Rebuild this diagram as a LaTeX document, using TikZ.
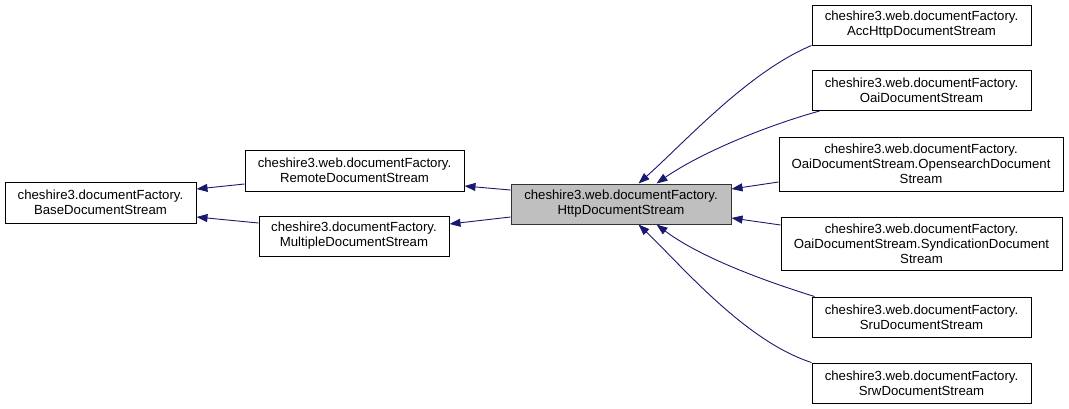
\documentclass[tikz,border=0pt]{standalone}
\usepackage{fontspec}
\setmainfont{Liberation Sans}
\usetikzlibrary{arrows.meta}
\definecolor{edgeblue}{HTML}{191970}
\definecolor{focusgray}{HTML}{BFBFBF}
\begin{document}
\begin{tikzpicture}[x=1pt,y=-1pt,
  cls/.style={draw=black, fill=white, line width=1pt, inner sep=0pt, align=center,
              font=\fontsize{13.2}{15}\selectfont},
  twoline/.style={cls, minimum width=219pt, minimum height=40pt},
  focus/.style={cls, fill=focusgray, draw=black!80},
  inherit/.style={draw=edgeblue, line width=0.9pt, -{Triangle[length=11pt,width=8pt]}}]
\useasboundingbox (0,0) rectangle (1069,408);

\node[cls, minimum width=191pt, minimum height=41pt] (base) at (100.5,202.5)
  {cheshire3.documentFactory.\\BaseDocumentStream};
\node[cls, minimum width=219pt, minimum height=41pt] (remote) at (354.5,170.5)
  {cheshire3.web.documentFactory.\\RemoteDocumentStream};
\node[cls, minimum width=190pt, minimum height=40pt] (multiple) at (354,236)
  {cheshire3.documentFactory.\\MultipleDocumentStream};
\node[focus, minimum width=220pt, minimum height=40pt] (http) at (621,204)
  {cheshire3.web.documentFactory.\\HttpDocumentStream};
\node[twoline] (acc) at (921.5,25)
  {cheshire3.web.documentFactory.\\AccHttpDocumentStream};
\node[twoline] (oai) at (921.5,90.5)
  {cheshire3.web.documentFactory.\\OaiDocumentStream};
\node[cls, minimum width=284pt, minimum height=54pt] (opens) at (921,164)
  {cheshire3.web.documentFactory.\\OaiDocumentStream.OpensearchDocument\\Stream};
\node[cls, minimum width=281pt, minimum height=53pt] (synd) at (921.5,243.5)
  {cheshire3.web.documentFactory.\\OaiDocumentStream.SyndicationDocument\\Stream};
\node[twoline] (sru) at (921.5,317)
  {cheshire3.web.documentFactory.\\SruDocumentStream};
\node[twoline] (srw) at (921.5,383)
  {cheshire3.web.documentFactory.\\SrwDocumentStream};

\draw[inherit] ([yshift=-13.5pt]remote.west) -- ([yshift=13.5pt]base.east);
\draw[inherit] ([yshift=13pt]multiple.west) -- ([yshift=-14.5pt]base.east);
\draw[inherit] ([yshift=14pt]http.west) -- ([yshift=-15.5pt]remote.east);
\draw[inherit] ([yshift=-13pt]http.west) -- ([yshift=12pt]multiple.east);
\draw[inherit] ([yshift=-18pt]opens.west) -- ([yshift=15pt]http.east);
\draw[inherit] ([yshift=18.5pt]synd.west) -- ([yshift=-14pt]http.east);

\draw[inherit] (acc.south west) .. controls (748,72) and (684,143) .. ([xshift=128pt]http.north west);
\draw[inherit] ([xshift=8pt]oai.south west) .. controls (762,127) and (698,154.5) .. ([xshift=146pt]http.north west);
\draw[inherit] ([xshift=3pt]sru.north west) .. controls (755,278) and (697,255) .. ([xshift=146pt]http.south west);
\draw[inherit] (srw.north west) .. controls (745,341) and (682,266) .. ([xshift=128pt]http.south west);
\end{tikzpicture}
\end{document}
